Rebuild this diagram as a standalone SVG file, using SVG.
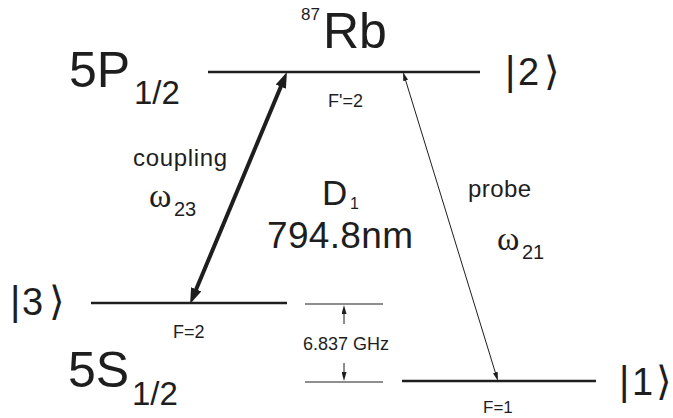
<svg xmlns="http://www.w3.org/2000/svg" width="673" height="418" viewBox="0 0 673 418">
<defs>
<style>
text{font-family:"Liberation Sans",Arial,sans-serif;fill:#1e1e1e}
.big{font-size:50px}
.sub{font-size:33px}
.ket{font-size:38px}
.bar{font-size:40px}
.ang{font-size:40px;font-family:"DejaVu Sans",sans-serif}
.lbl{font-size:18px}
.mid{font-size:24px}
.om{font-family:"Liberation Serif","Times New Roman",serif;font-size:34px}
.level{stroke:#1e1e1e;stroke-width:2.6;fill:none}
.thin{stroke:#1e1e1e;stroke-width:1.2;fill:none}
</style>
<marker id="hb" viewBox="0 0 16 11" markerWidth="16" markerHeight="11" refX="6" refY="5.5" orient="auto-start-reverse" markerUnits="userSpaceOnUse">
<path d="M0,0 L16,5.5 L0,11 z" fill="#1e1e1e"/>
</marker>
<marker id="hs" viewBox="0 0 9 5" markerWidth="9" markerHeight="5" refX="3" refY="2.5" orient="auto-start-reverse" markerUnits="userSpaceOnUse">
<path d="M0,0 L9,2.5 L0,5 z" fill="#1e1e1e"/>
</marker>
</defs>
<rect width="673" height="418" fill="#ffffff"/>

<g id="title">
<text x="301" y="20" style="font-size:17px">87</text>
<text x="323" y="48" class="big">Rb</text>
</g>

<g id="level2">
<line class="level" x1="208" y1="72" x2="480" y2="72"/>
<text x="69" y="87" class="big">5P</text>
<text x="134" y="104" class="sub">1/2</text>
<text x="328" y="107" class="lbl">F'=2</text>
<text class="bar" x="505" y="85">|</text>
<text class="ket" x="518" y="85">2</text>
<text class="ang" x="544" y="85">⟩</text>
</g>

<g id="level3">
<line class="level" x1="91" y1="303" x2="287" y2="303"/>
<text x="173" y="338" class="lbl">F=2</text>
<text class="bar" x="10" y="315">|</text>
<text class="ket" x="22" y="315">3</text>
<text class="ang" x="49" y="315">⟩</text>
</g>

<g id="level1">
<line class="level" x1="402" y1="381" x2="596" y2="381"/>
<text x="483" y="413" style="font-size:17px">F=1</text>
<text class="bar" x="619" y="395">|</text>
<text class="ket" x="632" y="395">1</text>
<text class="ang" x="656" y="395">⟩</text>
</g>

<g id="ground-label">
<text x="68" y="387" class="big">5S</text>
<text x="132" y="405" class="sub">1/2</text>
</g>

<g id="splitting">
<line class="thin" x1="305" y1="304" x2="383" y2="304"/>
<line class="thin" x1="305" y1="382" x2="383" y2="382"/>
<text x="303" y="350" class="lbl">6.837 GHz</text>
</g>

<g id="center-label">
<text x="322" y="205" style="font-size:35px">D</text>
<text x="350" y="209" style="font-size:16px">1</text>
<text x="267" y="248" style="font-size:37px" textLength="146">794.8nm</text>
</g>

<g id="coupling-label">
<text x="133" y="166" class="mid" textLength="94">coupling</text>
<text x="149" y="207" class="om">ω</text>
<text x="174" y="216" style="font-size:20px">23</text>
</g>

<g id="probe-label">
<text x="468" y="197" class="mid" textLength="63">probe</text>
<text x="497" y="250" class="om">ω</text>
<text x="522" y="259" style="font-size:20px">21</text>
</g>

<g id="connectors">
<line x1="193.9" y1="294.8" x2="283.1" y2="81.2" stroke="#1e1e1e" stroke-width="4" marker-start="url(#hb)" marker-end="url(#hb)"/>
<line x1="404.8" y1="77.7" x2="496.2" y2="375.3" stroke="#1e1e1e" stroke-width="1" marker-start="url(#hs)" marker-end="url(#hs)"/>
<line x1="344" y1="324" x2="344" y2="311" stroke="#1e1e1e" stroke-width="1" marker-end="url(#hs)"/>
<line x1="344" y1="363" x2="344" y2="375" stroke="#1e1e1e" stroke-width="1" marker-end="url(#hs)"/>
</g>
</svg>
